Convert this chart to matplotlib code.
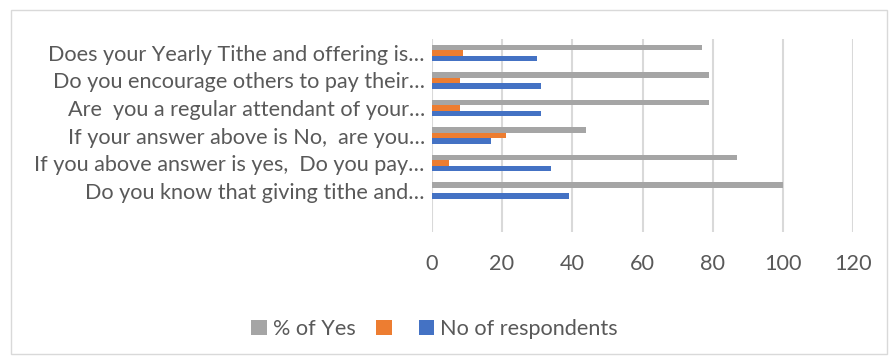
import numpy as np
import matplotlib.pyplot as plt
from matplotlib.patches import Rectangle

# -----------------------------
# Data (top to bottom as shown)
# -----------------------------
questions = [
    "Does your Yearly Tithe and offering is…",
    "Do you encourage others to pay their…",
    "Are  you a regular attendant of your…",
    "If your answer above is No,  are you…",
    "If you above answer is yes,  Do you pay…",
    "Do you know that giving tithe and…",
]
respondents = [30, 31, 31, 17, 34, 39]
no_answer = [9, 8, 8, 21, 5, 0]
pct_yes = [77, 79, 79, 44, 87, 100]

BLUE = "#4472C4"
ORANGE = "#ED7D31"
GRAY = "#A5A5A5"
TEXT = "#595959"
GRID = "#D9D9D9"
FS = 15.6

plt.rcParams["font.family"] = ["Lato", "DejaVu Sans"]

# -----------------------------
# Figure
# -----------------------------
fig = plt.figure(figsize=(8.89, 3.56), dpi=100)
ax = fig.add_axes([0.4856, 0.3483, 0.4744, 0.5421])

n = len(questions)
y = np.arange(n)[::-1].astype(float)
h = 0.2

ax.barh(y - h, respondents, height=h, color=BLUE, label="No of respondents", zorder=3)
ax.barh(y, no_answer, height=h, color=ORANGE, label="", zorder=3)
ax.barh(y + h, pct_yes, height=h, color=GRAY, label="% of Yes", zorder=3)

ax.set_xlim(0, 120)
ax.set_xticks(np.arange(0, 121, 20))
ax.set_ylim(-1.5, n - 0.5)
ax.set_yticks(y)
ax.set_yticklabels(questions)

ax.tick_params(axis="y", length=0, pad=5, labelsize=FS, labelcolor=TEXT)
ax.tick_params(axis="x", length=0, pad=16, labelsize=FS, labelcolor=TEXT)

ax.grid(axis="x", color=GRID, linewidth=1.5, zorder=0)
for side in ["top", "right", "bottom", "left"]:
    ax.spines[side].set_visible(False)

# legend: gray, orange, blue
handles = ax.containers
fig.legend(
    [handles[2], handles[1], handles[0]],
    ["% of Yes", "", "No of respondents"],
    loc="center",
    bbox_to_anchor=(0.489, 0.076),
    ncol=3,
    frameon=False,
    fontsize=FS,
    labelcolor=TEXT,
    handlelength=0.7,
    handleheight=0.7,
    handletextpad=0.3,
    columnspacing=0.95,
)

# chart border
fig.patches.append(
    Rectangle(
        (11 / 889, 1 - 354 / 356),
        (887 - 11) / 889,
        (354 - 10) / 356,
        transform=fig.transFigure,
        fill=False,
        edgecolor=GRID,
        linewidth=1,
    )
)

fig.savefig("out.png", dpi=100)
